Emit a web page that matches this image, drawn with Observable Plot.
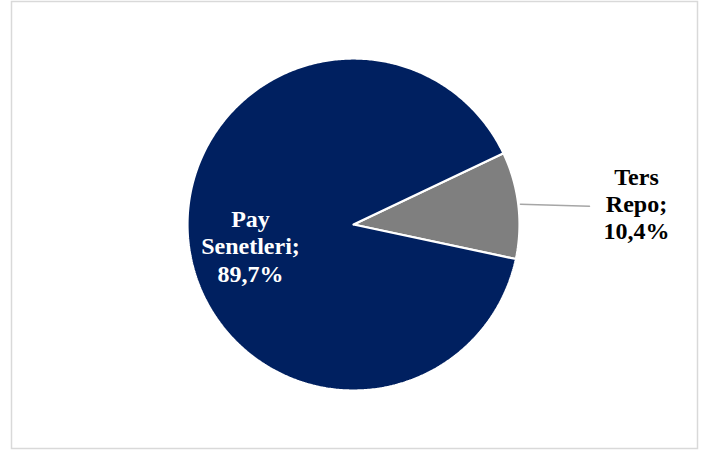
<!DOCTYPE html>
<html>
<head>
<meta charset="utf-8">
<script src="https://cdn.jsdelivr.net/npm/d3@7"></script>
<script src="https://cdn.jsdelivr.net/npm/@observablehq/plot@0.6"></script>
<style>
  html, body { margin: 0; padding: 0; background: #fff; }
  #chart svg { display: block; }
</style>
</head>
<body>
<div id="chart"></div>
<script>
// Data
const categories = ["Ters Repo", "Pay Senetleri"];
const values = [10.4, 89.7];
const labels = ["Ters\nRepo;\n10,4%", "Pay\nSenetleri;\n89,7%"];
const colors = ["#7f7f7f", "#002060"];

// Layout
const W = 705, H = 452;
const cx = 353, cy = 224, R = 166;
const startDeg = 64.6;

const pie = d3.pie().sort(null).value(d => d)
  .startAngle(startDeg * Math.PI / 180)
  .endAngle(startDeg * Math.PI / 180 + 2 * Math.PI);
const arcs = pie(values);

const px = (a, r) => cx + r * Math.sin(a);
const py = (a, r) => cy - r * Math.cos(a);

function slicePoints(arc) {
  const pts = [{x: cx, y: cy}];
  const n = Math.max(8, Math.ceil((arc.endAngle - arc.startAngle) / 0.01));
  for (let i = 0; i <= n; i++) {
    const a = arc.startAngle + (arc.endAngle - arc.startAngle) * i / n;
    pts.push({x: px(a, R), y: py(a, R)});
  }
  pts.push({x: cx, y: cy});
  return pts;
}

const sliceMarks = arcs.map((arc, i) =>
  Plot.line(slicePoints(arc), {
    x: "x", y: "y", fill: colors[i], stroke: "#ffffff",
    strokeWidth: 2.2, strokeLinejoin: "miter", curve: "linear"
  })
);

// Ters Repo leader + label
const midT = (arcs[0].startAngle + arcs[0].endAngle) / 2;
const leader = [
  {x: px(midT, R) + 2, y: py(midT, R) - 1},
  {x: 589, y: py(midT, R) + 1}
];
const labelData = [
  {x: 636, y: py(midT, R) - 2, text: labels[0], fill: "#000000"},
  {x: 250, y: 245, text: labels[1], fill: "#ffffff"}
];

const chart = Plot.plot({
  width: W,
  height: H,
  margin: 0,
  x: {domain: [0, W], range: [0, W], axis: null},
  y: {domain: [0, H], range: [0, H], axis: null},
  style: {background: "#ffffff"},
  marks: [
    Plot.frame({stroke: "#d9d9d9", strokeWidth: 1.5, insetLeft: 11, insetTop: 1, insetRight: 8, insetBottom: 4}),
    ...sliceMarks,
    Plot.line(leader, {x: "x", y: "y", stroke: "#a6a6a6", strokeWidth: 1.5}),
    Plot.text(labelData, {
      x: "x", y: "y", text: "text", fill: d => d.fill,
      fontFamily: "'Liberation Serif', 'Times New Roman', serif",
      fontWeight: "bold", fontSize: 24, lineHeight: 1.14, textAnchor: "middle"
    })
  ]
});
document.getElementById("chart").appendChild(chart);
</script>
</body>
</html>
